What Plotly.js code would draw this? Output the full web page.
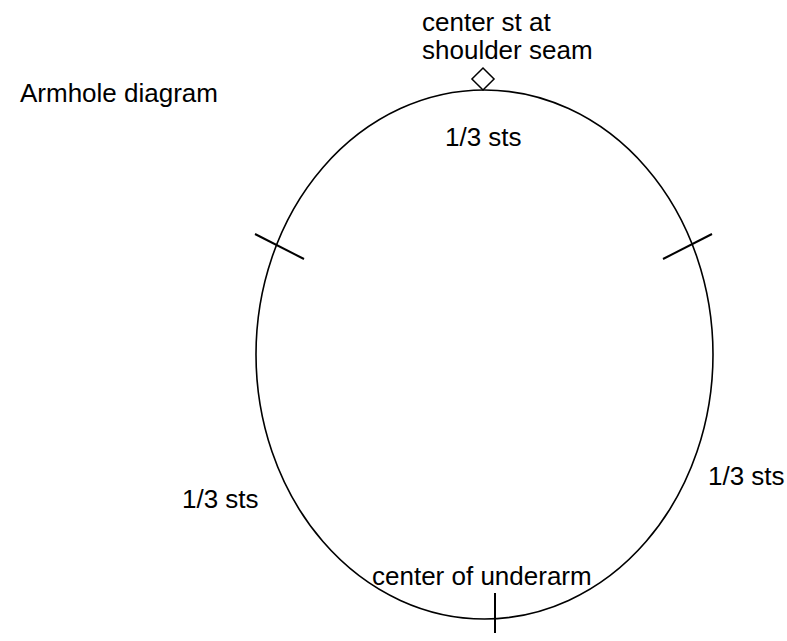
<!DOCTYPE html>
<html>
<head>
<meta charset="utf-8">
<script src="https://cdn.plot.ly/plotly-3.0.1.min.js"></script>
<style>html,body{margin:0;padding:0;background:#fff;}#chart{width:787px;height:641px;}</style>
</head>
<body>
<div id="chart"></div>
<script>
// Diagram geometry (in a 787 x 641 drawing space, y grows downward)
const ellipseX = [256, 713];
const ellipseY = [90, 619];
const tickNames = ["left", "right", "bottom"];
const tickX0 = [255, 663, 495];
const tickY0 = [234, 259, 593];
const tickX1 = [304, 712, 495];
const tickY1 = [259, 234, 633];
const markerX = [483];
const markerY = [79];
const labelTexts = ["Armhole diagram", "center st at", "shoulder seam", "1/3 sts", "1/3 sts", "1/3 sts", "center of underarm"];
const labelX = [18, 420, 420, 483, 220, 746, 482];
const labelY = [93, 22, 50, 137, 499, 476, 576];
const labelAnchor = ["left", "left", "left", "center", "center", "center", "center"];

const shapes = [{
  type: "circle", xref: "x", yref: "y",
  x0: ellipseX[0], x1: ellipseX[1], y0: ellipseY[0], y1: ellipseY[1],
  line: {color: "#000", width: 1.6}
}];
for (let i = 0; i < tickNames.length; i++) {
  shapes.push({type: "line", xref: "x", yref: "y",
    x0: tickX0[i], y0: tickY0[i], x1: tickX1[i], y1: tickY1[i],
    line: {color: "#000", width: 2}});
}

const annotations = labelTexts.map((t, i) => ({
  text: t, x: labelX[i], y: labelY[i], xref: "x", yref: "y",
  xanchor: labelAnchor[i], yanchor: "middle", align: "left",
  showarrow: false, font: {family: "Liberation Sans, Arial, sans-serif", size: 26, color: "#000"}
}));

const traces = [{
  x: markerX, y: markerY, type: "scatter", mode: "markers",
  marker: {symbol: "diamond-open", size: 17, color: "#000", line: {width: 1.5, color: "#000"}},
  hoverinfo: "skip", showlegend: false
}];

const layout = {
  width: 787, height: 641,
  margin: {l: 0, r: 0, t: 0, b: 0},
  paper_bgcolor: "#fff", plot_bgcolor: "#fff",
  xaxis: {range: [0, 787], visible: false, fixedrange: true},
  yaxis: {range: [641, 0], visible: false, fixedrange: true},
  shapes: shapes, annotations: annotations, showlegend: false
};
Plotly.newPlot("chart", traces, layout, {displayModeBar: false, staticPlot: true});
</script>
</body>
</html>
